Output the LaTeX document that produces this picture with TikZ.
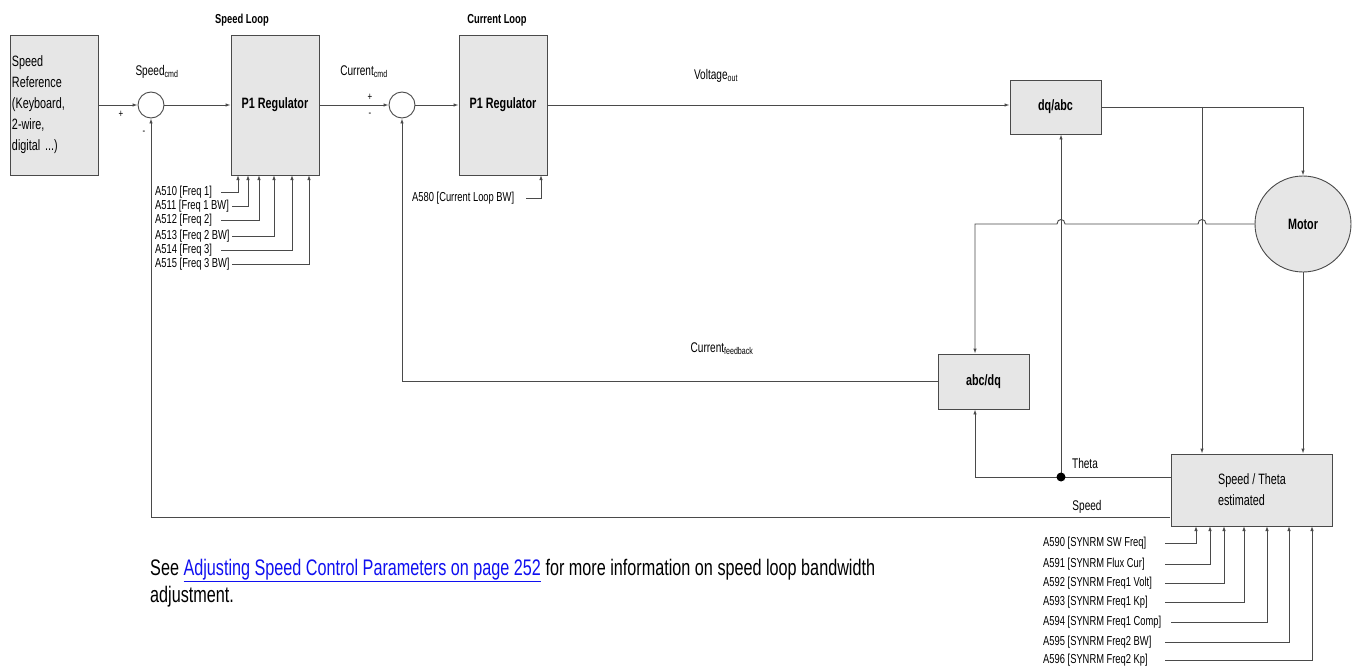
\documentclass[tikz,border=0pt]{standalone}
\usepackage{fontspec}
\setmainfont{Liberation Sans}[FakeStretch=0.72]
\usetikzlibrary{arrows.meta}
\definecolor{boxgray}{HTML}{E6E6E6}
\definecolor{linegray}{HTML}{4A4A4A}
\definecolor{linkblue}{HTML}{1010F0}

\tikzset{
  blk/.style={draw=linegray,fill=boxgray,line width=0.9pt,inner sep=0pt,font=\fontsize{15}{18}\selectfont\bfseries},
  sumpt/.style={draw=linegray,circle,minimum size=26pt,inner sep=0pt,line width=0.9pt},
  wire/.style={draw=linegray,line width=0.9pt},
  arr/.style={wire,-{Latex[length=5pt,width=3.5pt]}},
  parlab/.style={font=\fontsize{13}{14}\selectfont,inner sep=0pt,anchor=west},
  sig/.style={font=\fontsize{14}{16}\selectfont,inner sep=0pt},
  title/.style={font=\fontsize{13}{15}\selectfont\bfseries,inner sep=0pt}
}

\begin{document}
\begin{tikzpicture}[x=1pt,y=-1pt]
\useasboundingbox (0,0) rectangle (1353,669);

% blocks
\node[blk,font=\fontsize{15}{21}\selectfont,minimum width=88pt,minimum height=140pt,
      text width=84pt,align=left] (ref) at (54,105) {Speed\\Reference\\(Keyboard,\\2-wire,\\digital ...)};
\node[blk,minimum width=88pt,minimum height=140pt] (spdreg) at (275,105) {P1 Regulator};
\node[blk,minimum width=88pt,minimum height=140pt] (curreg) at (503,105) {P1 Regulator};
\node[blk,minimum width=91pt,minimum height=54pt] (dqabc) at (1055.5,107) {dq/abc};
\node[blk,minimum width=91pt,minimum height=55pt] (abcdq) at (983.5,381.5) {abc/dq};
\node[blk,font=\fontsize{15}{21}\selectfont,minimum width=161pt,minimum height=72pt,
      align=left] (est) at (1252,490) {Speed / Theta\\estimated};
\node[blk,circle,minimum size=96pt] (motor) at (1303,224) {Motor};
\node[sumpt] (sum1) at (151,105) {};
\node[sumpt] (sum2) at (402,105) {};

% titles and signals
\node[title] (spdloop) at (242,20) {Speed Loop};
\node[title] (curloop) at (497,20) {Current Loop};
\node[sig] (spdcmd) at (157,72) {Speed\textsubscript{cmd}};
\node[sig] (curcmd) at (364,72) {Current\textsubscript{cmd}};
\node[sig] (vout) at (716,76) {Voltage\textsubscript{out}};
\node[sig] (curfb) at (722,349) {Current\textsubscript{feedback}};
\node[sig] (thetalab) at (1085,463) {Theta};
\node[sig] (spdlab) at (1087,507) {Speed};
\node[sig,font=\fontsize{11}{12}\selectfont] (p1) at (121,114) {+};
\node[sig,font=\fontsize{11}{12}\selectfont] (m1) at (144,133) {-};
\node[sig,font=\fontsize{11}{12}\selectfont] (p2) at (370,97) {+};
\node[sig,font=\fontsize{11}{12}\selectfont] (m2) at (370,115) {-};

% forward path
\draw[arr] (ref.east |- sum1) -- (sum1.west);
\draw[arr] (sum1.east) -- (spdreg.west |- sum1);
\draw[arr] (spdreg.east |- sum2) -- (sum2.west);
\draw[arr] (sum2.east) -- (curreg.west |- sum2);
\draw[arr] (curreg.east) -- (dqabc.west |- curreg.east);
\coordinate (brA) at (1202,107);
\draw[arr] (dqabc.east) -| (motor.north);
\draw[arr] (brA) -- (brA |- est.north);
\draw[arr] (motor.south) -- (motor.south |- est.north);

% motor feedback with jumps
\coordinate (fbA) at (975,224);
\draw[arr] (motor.west) -- (1206,224) .. controls (1206,218) and (1198,218) .. (1198,224)
  -- (1065,224) .. controls (1065,218) and (1057,218) .. (1057,224) -- (fbA) -- (fbA |- abcdq.north);
\draw[arr] (abcdq.west) -| (sum2.south);

% theta and speed
\coordinate (thetaJ) at (1061,477);
\coordinate (spdY) at (1170,517);
\draw[wire] (est.west |- thetaJ) -- (thetaJ);
\draw[arr] (thetaJ) -| (fbA |- abcdq.south);
\draw[arr] (thetaJ) -- (thetaJ |- dqabc.south);
\fill[black] (thetaJ) circle (4.5pt);
\draw[arr] (spdY) -| (sum1.south);

% speed loop parameters
\foreach \i/\y/\s/\x/\t in {0/192/221/238/{A510 [Freq 1]},1/206/232/248/{A511 [Freq 1 BW]},
    2/220/221/259/{A512 [Freq 2]},3/236/232/274/{A513 [Freq 2 BW]},
    4/250/221/292/{A514 [Freq 3]},5/264/232/309/{A515 [Freq 3 BW]}}{
  \node[parlab] (sp\i) at (155,\y) {\t};
  \draw[arr] (\s,\y) -| (\x,175);
}

% current loop parameter
\node[parlab] (cp0) at (412,198) {A580 [Current Loop BW]};
\draw[arr] (526,198) -| (541,175);

% estimator parameters
\foreach \i/\y/\s/\x/\t in {0/543/1165/1196/{A590 [SYNRM SW Freq]},1/564/1165/1210/{A591 [SYNRM Flux Cur]},
    2/583/1165/1224/{A592 [SYNRM Freq1 Volt]},3/602/1165/1244/{A593 [SYNRM Freq1 Kp]},
    4/622/1171/1267/{A594 [SYNRM Freq1 Comp]},5/642/1165/1289/{A595 [SYNRM Freq2 BW]},
    6/660/1165/1312/{A596 [SYNRM Freq2 Kp]}}{
  \node[parlab] (ep\i) at (1043,\y) {\t};
  \draw[arr] (\s,\y) -| (\x,526);
}

% note
\node[anchor=north west,inner sep=0pt,align=left,font=\fontsize{22.5}{27}\selectfont] (note) at (150,559)
  {See {\color{linkblue}\underline{Adjusting Speed Control Parameters on page 252}} for more information on speed loop bandwidth\\adjustment.};
\end{tikzpicture}
\end{document}
